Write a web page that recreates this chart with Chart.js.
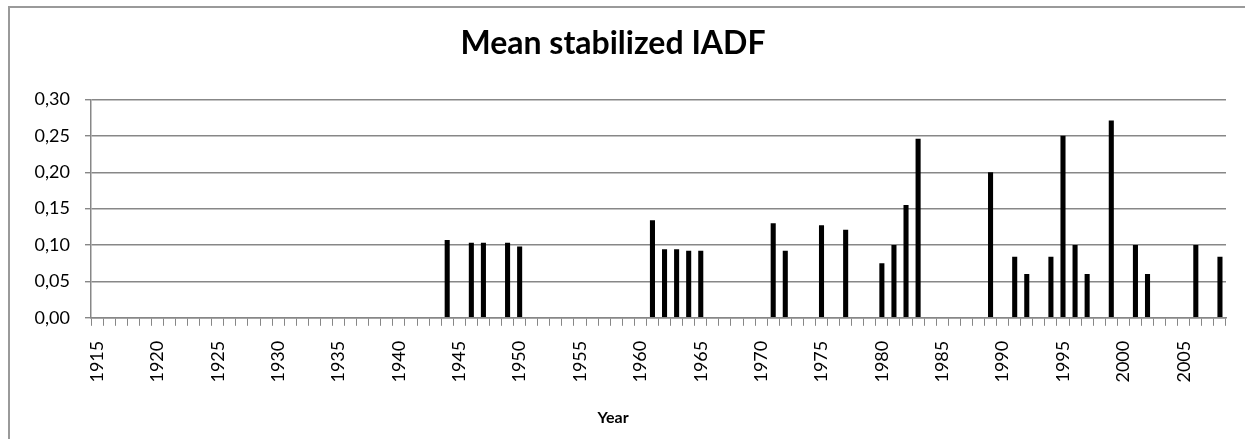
<!DOCTYPE html>
<html>
<head>
<meta charset="utf-8">
<title>Mean stabilized IADF</title>
<script src="https://cdn.jsdelivr.net/npm/chart.js@4/dist/chart.umd.min.js"></script>
<style>
  html, body { margin: 0; padding: 0; background: #ffffff; }
  canvas { display: block; }
</style>
</head>
<body>
<canvas id="chart" width="1245" height="439"></canvas>
<script>
// Year range on the category axis
const firstYear = 1915;
const lastYear = 2008;

// Years with a recorded IADF and their mean stabilized value
const eventYears = [
  1944, 1946, 1947, 1949, 1950,
  1961, 1962, 1963, 1964, 1965,
  1971, 1972, 1975, 1977,
  1980, 1981, 1982, 1983, 1989,
  1991, 1992, 1994, 1995, 1996, 1997, 1999,
  2001, 2002, 2006, 2008
];
const eventValues = [
  0.107, 0.103, 0.103, 0.103, 0.098,
  0.134, 0.094, 0.094, 0.092, 0.092,
  0.130, 0.092, 0.127, 0.121,
  0.075, 0.100, 0.155, 0.246, 0.200,
  0.084, 0.060, 0.084, 0.250, 0.100, 0.060, 0.271,
  0.100, 0.060, 0.100, 0.084
];

// Value axis ticks
const yTicks = [0.00, 0.05, 0.10, 0.15, 0.20, 0.25, 0.30];

// One category per year; years without an event stay empty
const years = [];
for (let y = firstYear; y <= lastYear; y++) years.push(String(y));
const values = years.map(label => {
  const i = eventYears.indexOf(Number(label));
  return i >= 0 ? eventValues[i] : null;
});

const axisGray = '#878787';
const tickFont = { family: 'Lato', size: 18 };

// Thin grey frame along the top and left edges of the chart
const framePlugin = {
  id: 'frame',
  beforeDraw(chart) {
    const ctx = chart.ctx;
    ctx.save();
    ctx.fillStyle = '#ffffff';
    ctx.fillRect(0, 0, chart.width, chart.height);
    ctx.strokeStyle = '#9a9a9a';
    ctx.lineWidth = 2;
    ctx.beginPath();
    ctx.moveTo(9, chart.height);
    ctx.lineTo(9, 7);
    ctx.lineTo(chart.width, 7);
    ctx.stroke();
    ctx.restore();
  }
};

new Chart(document.getElementById('chart'), {
  type: 'bar',
  data: {
    labels: years,
    datasets: [{
      label: 'Mean stabilized IADF',
      data: values,
      backgroundColor: '#000000',
      borderWidth: 0,
      barPercentage: 0.42,
      categoryPercentage: 1.0
    }]
  },
  options: {
    responsive: false,
    animation: false,
    devicePixelRatio: 1,
    layout: { padding: { left: 0, right: 19, top: 0, bottom: 0 } },
    plugins: {
      legend: { display: false },
      tooltip: { enabled: false },
      title: {
        display: true,
        text: 'Mean stabilized IADF',
        color: '#000000',
        font: { family: 'Lato', size: 32, weight: 'bold' },
        padding: { top: 24, bottom: 37 }
      },
      subtitle: {
        display: true,
        position: 'bottom',
        text: 'Year',
        color: '#000000',
        font: { family: 'Lato', size: 16, weight: 'bold' },
        padding: { top: 10, bottom: 12 }
      }
    },
    scales: {
      x: {
        type: 'category',
        offset: true,
        afterFit(scale) {
          scale.height = 80;
          scale.paddingLeft = 0;
          scale.paddingRight = 0;
        },
        grid: {
          offset: true,
          drawOnChartArea: false,
          drawTicks: true,
          tickLength: 8,
          color: axisGray,
          lineWidth: 1
        },
        border: { display: true, color: axisGray, width: 1.5 },
        ticks: {
          autoSkip: false,
          minRotation: 90,
          maxRotation: 90,
          padding: 15,
          color: '#000000',
          font: tickFont,
          callback(value) {
            const label = this.getLabelForValue(value);
            return Number(label) % 5 === 0 ? label : '';
          }
        }
      },
      y: {
        min: 0,
        max: 0.3,
        afterFit(scale) { scale.width = 91; },
        afterBuildTicks(scale) {
          scale.ticks = yTicks.map(v => ({ value: v }));
        },
        grid: {
          color: axisGray,
          lineWidth: 1.4,
          tickLength: 6
        },
        border: { display: true, color: axisGray, width: 1.5 },
        ticks: {
          padding: 15,
          color: '#000000',
          font: tickFont,
          callback(value) {
            return value.toFixed(2).replace('.', ',');
          }
        }
      }
    }
  },
  plugins: [framePlugin]
});
</script>
</body>
</html>
